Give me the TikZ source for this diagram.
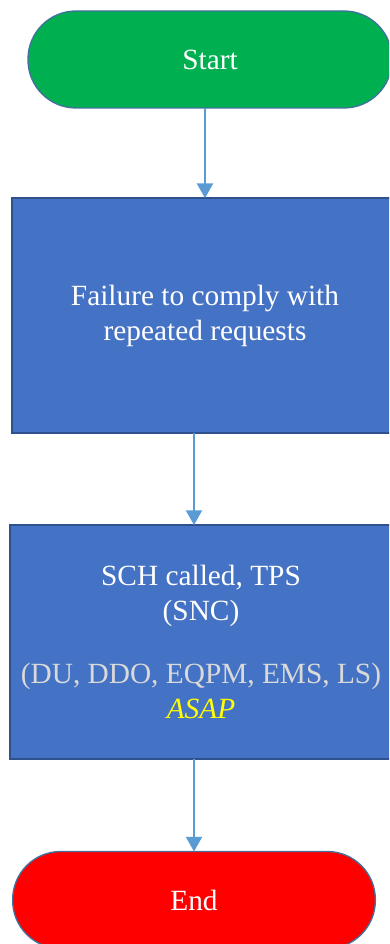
\documentclass[tikz,border=0pt]{standalone}
\usepackage{fontspec}
\setmainfont{Liberation Serif}
\usepackage{xcolor}
\usetikzlibrary{positioning,arrows.meta}

\definecolor{startgreen}{HTML}{00B050}
\definecolor{endred}{HTML}{FF0000}
\definecolor{boxblue}{HTML}{4472C4}
\definecolor{boxedge}{HTML}{2F528F}
\definecolor{termedge}{HTML}{41719C}
\definecolor{flowline}{HTML}{5B9BD5}
\definecolor{softgray}{HTML}{D9D9D9}
\definecolor{asapyellow}{HTML}{FFFF00}

\begin{document}
\begin{tikzpicture}[
    x=0.75pt, y=-0.75pt,
    terminal/.style={rectangle, rounded corners=36pt, draw=termedge, line width=1pt, text=white, minimum width=273pt, minimum height=72.75pt, inner sep=0pt, outer sep=0pt, align=center, font=\fontsize{22}{26.25}\selectfont},
    process/.style={rectangle, draw=boxedge, line width=1pt, fill=boxblue, text=white, minimum height=176pt, inner sep=0pt, outer sep=0pt, align=center, font=\fontsize{22}{26.25}\selectfont},
    arrow/.style={-{Triangle[width=12pt, length=11pt]}, line width=1.5pt, flowline},
]

% === FRAME: same size as the reference, pixel coordinates ===
\useasboundingbox (0,0) rectangle (389,944);
\clip (0,0) rectangle (389,944);

% === NODES (top to bottom) ===
\node[terminal, fill=startgreen] (start) at (210, 59.5) {Start};

\node[process, minimum width=289.5pt] (fail) at (205, 315.5)
    {Failure to comply with\\repeated requests};

\node[process, minimum width=286.5pt, minimum height=175.5pt] (sch) at (201, 642)
    {SCH called, TPS\\(SNC)\\[21pt]
     \textcolor{softgray}{(DU, DDO, EQPM, EMS, LS)}\\
     \textcolor{asapyellow}{\itshape ASAP}};

\node[terminal, fill=endred, minimum width=272pt] (stop) at (194, 900) {End};

% === ARROWS ===
\draw[arrow] (start.south -| fail.north) -- (fail.north);
\draw[arrow] (fail.south -| stop.north) -- (sch.north -| stop.north);
\draw[arrow] (sch.south -| stop.north) -- (stop.north);

\end{tikzpicture}
\end{document}
